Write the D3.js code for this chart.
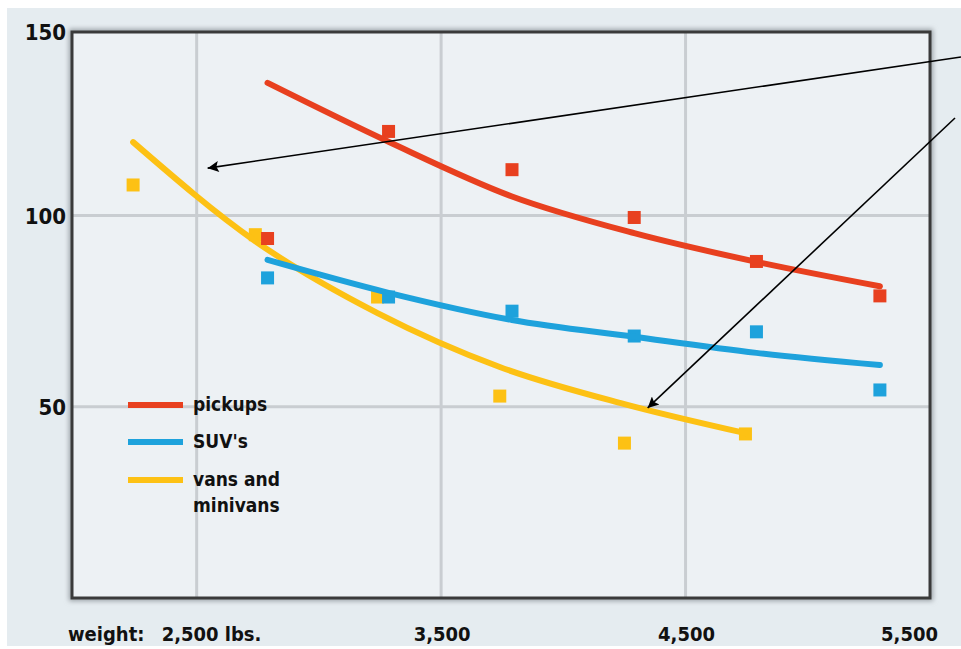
<!DOCTYPE html>
<html lang="en">
<head>
<meta charset="UTF-8">
<title>Weight vs value</title>
<script src="https://d3js.org/d3.v7.min.js"></script>
<style>
  body { margin: 0; background: #fff; }
  text { font-family: "DejaVu Sans Condensed", "DejaVu Sans", sans-serif; font-weight: bold; fill: #111; }
  .tick-label { font-size: 20px; }
  .legend-label { font-size: 19px; }
</style>
</head>
<body>
<div id="chart"></div>
<script>

// data
const weightTicks = [2500, 3500, 4500, 5500];
const valueTicks = [50, 100, 150];

const pickupWeights = [2790, 3285, 3790, 4290, 4790, 5295];
const pickupValues = [94, 122, 112, 99.5, 88, 79];
const suvWeights = [2790, 3285, 3790, 4290, 4790, 5295];
const suvValues = [83.7, 78.7, 75, 68.5, 69.6, 54.4];
const vanWeights = [2240, 2740, 3240, 3740, 4250, 4745];
const vanValues = [108, 95, 78.7, 52.8, 40.5, 42.9];

// fitted trend lines
const pickupTrendWeights = [2790, 3285, 3790, 4290, 4790, 5295];
const pickupTrend = [134.7, 119.3, 105, 95.4, 87.9, 81.5];
const suvTrendWeights = [2790, 3285, 3790, 4290, 4790, 5295];
const suvTrend = [88.4, 79.8, 72.7, 68.3, 64.1, 60.9];
const vanTrendWeights = [2240, 2740, 3240, 3740, 4250, 4745];
const vanTrend = [119.2, 93.3, 74.5, 60.4, 50.7, 43.1];

const legendLabels = [["pickups"], ["SUV's"], ["vans and", "minivans"]];
const colors = ["#e8401f", "#1ea2dc", "#fdc114"];

const W = 961, H = 649;
const frame = {left: 72, right: 930, top: 32, bottom: 598};

const svg = d3.select("#chart").append("svg")
  .attr("width", W)
  .attr("height", H);

// scales
const x = d3.scaleLinear().domain([1990, 5500]).range([frame.left, frame.right]);
const y = d3.scaleLinear().domain([0, 148]).range([frame.bottom, frame.top]);

// background
svg.append("rect")
  .attr("x", 7).attr("y", 8)
  .attr("width", W - 7).attr("height", H - 11)
  .attr("fill", "#e5ecf0");

const defs = svg.append("defs");
defs.append("filter").attr("id", "soft")
  .attr("x", "-5%").attr("y", "-5%").attr("width", "110%").attr("height", "110%")
  .append("feGaussianBlur").attr("stdDeviation", 2.5);

defs.append("marker")
  .attr("id", "head")
  .attr("viewBox", "0 0 10 10")
  .attr("refX", 10).attr("refY", 5)
  .attr("markerWidth", 15).attr("markerHeight", 11)
  .attr("markerUnits", "userSpaceOnUse")
  .attr("orient", "auto")
  .append("path").attr("d", "M0,0 L10,5 L0,10 L2,5 Z").attr("fill", "#000");

// frame shadow + plot area
svg.append("rect")
  .attr("x", frame.left).attr("y", frame.top)
  .attr("width", frame.right - frame.left).attr("height", frame.bottom - frame.top)
  .attr("fill", "none").attr("stroke", "#9aa0a5").attr("stroke-width", 6)
  .attr("filter", "url(#soft)");

svg.append("rect")
  .attr("x", frame.left).attr("y", frame.top)
  .attr("width", frame.right - frame.left).attr("height", frame.bottom - frame.top)
  .attr("fill", "#edf1f4");

// grid
svg.append("g")
  .selectAll("line")
  .data(weightTicks.filter(d => d < 5500))
  .join("line")
  .attr("x1", d => x(d)).attr("x2", d => x(d))
  .attr("y1", frame.top).attr("y2", frame.bottom)
  .attr("stroke", "#c9cdd1").attr("stroke-width", 3);

svg.append("g")
  .selectAll("line")
  .data(valueTicks.filter(d => d < 148))
  .join("line")
  .attr("x1", frame.left).attr("x2", frame.right)
  .attr("y1", d => y(d)).attr("y2", d => y(d))
  .attr("stroke", "#c9cdd1").attr("stroke-width", 3);

svg.append("rect")
  .attr("x", frame.left).attr("y", frame.top)
  .attr("width", frame.right - frame.left).attr("height", frame.bottom - frame.top)
  .attr("fill", "none").attr("stroke", "#3a3a3a").attr("stroke-width", 3);

// series
const line = d3.line()
  .x(d => x(d[0]))
  .y(d => y(d[1]))
  .curve(d3.curveMonotoneX);

const series = [
  {trendX: vanTrendWeights, trend: vanTrend, px: vanWeights, py: vanValues, color: colors[2]},
  {trendX: suvTrendWeights, trend: suvTrend, px: suvWeights, py: suvValues, color: colors[1]},
  {trendX: pickupTrendWeights, trend: pickupTrend, px: pickupWeights, py: pickupValues, color: colors[0]}
];

const sq = 13;
series.forEach(s => {
  const g = svg.append("g");
  g.selectAll("rect")
    .data(d3.zip(s.px, s.py))
    .join("rect")
    .attr("x", d => x(d[0]) - sq / 2)
    .attr("y", d => y(d[1]) - sq / 2)
    .attr("width", sq).attr("height", sq)
    .attr("fill", s.color);
  g.append("path")
    .datum(d3.zip(s.trendX, s.trend))
    .attr("d", line)
    .attr("fill", "none")
    .attr("stroke", s.color)
    .attr("stroke-width", 6)
    .attr("stroke-linecap", "round");
});

// y labels
svg.append("g")
  .selectAll("text")
  .data(valueTicks)
  .join("text")
  .attr("class", "tick-label")
  .attr("x", frame.left - 6)
  .attr("y", d => y(Math.min(d, 148)) + 8)
  .attr("text-anchor", "end")
  .style("font-size", "22px")
  .text(d => d);

// x labels
const fmt = d3.format(",");
svg.append("text")
  .attr("class", "tick-label")
  .attr("x", frame.left - 4).attr("y", 641)
  .text("weight:");

svg.append("g")
  .selectAll("text")
  .data(weightTicks)
  .join("text")
  .attr("class", "tick-label")
  .attr("x", (d, i) => i === 0 ? x(d) - 35 : i === weightTicks.length - 1 ? x(d) + 8 : x(d) + 1)
  .attr("y", 641)
  .attr("text-anchor", (d, i) => i === 0 ? "start" : i === weightTicks.length - 1 ? "end" : "middle")
  .text((d, i) => i === 0 ? fmt(d) + " lbs." : fmt(d));

// legend
const legend = svg.append("g").attr("transform", "translate(128, 405)");
const rowY = [0, 37, 75];

legend.selectAll("line")
  .data(colors)
  .join("line")
  .attr("x1", 0).attr("x2", 55)
  .attr("y1", (d, i) => rowY[i]).attr("y2", (d, i) => rowY[i])
  .attr("stroke", d => d).attr("stroke-width", 6);

legendLabels.forEach((lines, i) => {
  lines.forEach((t, j) => {
    legend.append("text")
      .attr("class", "legend-label")
      .attr("x", 65)
      .attr("y", rowY[i] + 6 + j * 26)
      .text(t);
  });
});

// arrows
const arrows = [
  {from: [961, 57], to: [2545, 112.4]},
  {from: [955, 118], to: [4345, 49.7]}
];
svg.append("g")
  .selectAll("line")
  .data(arrows)
  .join("line")
  .attr("x1", d => d.from[0]).attr("y1", d => d.from[1])
  .attr("x2", d => x(d.to[0])).attr("y2", d => y(d.to[1]))
  .attr("stroke", "#000").attr("stroke-width", 1.6)
  .attr("marker-end", "url(#head)");

</script>
</body>
</html>
